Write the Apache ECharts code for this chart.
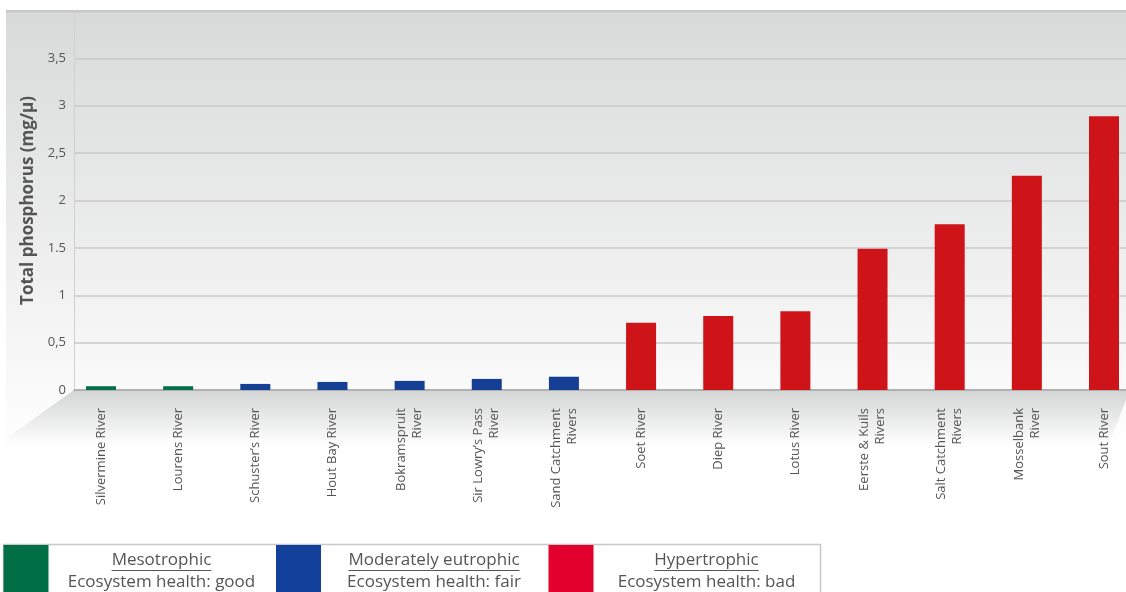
<!DOCTYPE html>
<html>
<head>
<meta charset="utf-8">
<script src="https://cdn.jsdelivr.net/npm/echarts@6/dist/echarts.min.js"></script>
<style>
  html, body { margin: 0; padding: 0; background: #fff; }
  #main { width: 1126px; height: 592px; }
</style>
</head>
<body>
<div id="main"></div>
<script>
// data
const rivers = [
  'Silvermine River', 'Lourens River', 'Schuster’s River', 'Hout Bay River',
  'Bokramspruit\nRiver', 'Sir Lowry’s Pass\nRiver', 'Sand Catchment\nRivers',
  'Soet River', 'Diep River', 'Lotus River', 'Eerste & Kuils\nRivers',
  'Salt Catchment\nRivers', 'Mosselbank\nRiver', 'Sout River'
]
const phosphorus = [0.04, 0.04, 0.064, 0.085, 0.096, 0.117, 0.14, 0.71, 0.78, 0.83, 1.49, 1.75, 2.26, 2.89]
// 0 = mesotrophic, 1 = moderately eutrophic, 2 = hypertrophic
const trophicClass = [0, 0, 1, 1, 1, 1, 1, 2, 2, 2, 2, 2, 2, 2]
const barColors = ['#02704a', '#143f94', '#cf1419']
const yTickLabels = ['0', '0,5', '1', '1.5', '2', '2,5', '3', '3,5', '']

const legendTitles = ['Mesotrophic', 'Moderately eutrophic', 'Hypertrophic']
const legendNotes = ['Ecosystem health: good', 'Ecosystem health: fair', 'Ecosystem health: bad']
const legendColors = ['#006f45', '#12409a', '#e2002c']

const FONT = '"Open Sans", "Noto Sans", sans-serif'
const textColor = '#555'

const chart = echarts.init(document.getElementById('main'), null, { renderer: 'canvas' })

// measure legend titles for the underline
const ctx = document.createElement('canvas').getContext('2d')
ctx.font = '17px "Open Sans"'

const legendEls = [{
  type: 'rect',
  shape: { x: 3.5, y: 544.5, width: 817, height: 60 },
  style: { fill: '#fff', stroke: '#c8c8c8', lineWidth: 1.5 },
  z: 10
}]
legendTitles.forEach((t, i) => {
  const x0 = 3 + i * 272.5
  const cx = x0 + 45 + 113.5
  const w = ctx.measureText(t).width
  legendEls.push(
    { type: 'rect', shape: { x: x0 + 0.5, y: 545, width: 45, height: 50 }, style: { fill: legendColors[i] }, z: 11 },
    { type: 'text', x: cx, y: 560, style: { text: t, font: '17px ' + FONT, fill: textColor, align: 'center', verticalAlign: 'middle' }, z: 11 },
    { type: 'line', shape: { x1: cx - w / 2, y1: 570.5, x2: cx + w / 2, y2: 570.5 }, style: { stroke: textColor, lineWidth: 1 }, z: 11 },
    { type: 'text', x: cx, y: 582, style: { text: legendNotes[i], font: '17px ' + FONT, fill: textColor, align: 'center', verticalAlign: 'middle' }, z: 11 }
  )
})

chart.setOption({
  animation: false,
  graphic: [
    // back wall
    {
      type: 'rect',
      shape: { x: 6, y: 11, width: 1120, height: 440 },
      style: {
        fill: new echarts.graphic.LinearGradient(0, 0, 0, 1, [
          { offset: 0, color: '#d8d9d9' },
          { offset: 0.86, color: '#fafafa' },
          { offset: 1, color: '#ffffff' }
        ])
      },
      z: -10
    },
    { type: 'rect', shape: { x: 6, y: 10, width: 1120, height: 2.5 }, style: { fill: '#c6c7c7' }, z: -9 },
    // floor
    {
      type: 'polygon',
      shape: { points: [[74, 390], [1126, 390], [1126, 400], [1108, 446], [4, 446], [4, 440]] },
      style: {
        fill: new echarts.graphic.LinearGradient(0, 0, 0, 1, [
          { offset: 0, color: '#d3d4d4' },
          { offset: 1, color: '#ffffff' }
        ])
      },
      z: -9
    },
    ...legendEls
  ],
  grid: [
    { left: 74, right: 0, top: 11, bottom: 202 },
    // category ticks sit on the bar centres, first and last at the grid edges
    { left: 101, right: 22, top: 11, bottom: 202 }
  ],
  xAxis: [
    {
      gridIndex: 0,
      type: 'value',
      min: 0,
      max: 1,
      axisLine: { show: true, lineStyle: { color: '#a6a6a6', width: 1.5 } },
      axisTick: { show: false },
      axisLabel: { show: false },
      splitLine: { show: false }
    },
    {
      gridIndex: 1,
      type: 'category',
      data: rivers,
      boundaryGap: false,
      axisLine: { show: false },
      axisTick: { show: false },
      splitLine: { show: false },
      axisLabel: {
        interval: 0,
        rotate: 90,
        margin: 18,
        fontSize: 13,
        lineHeight: 16,
        color: textColor,
        fontFamily: FONT
      }
    }
  ],
  yAxis: [
    {
      gridIndex: 0,
      type: 'value',
      min: 0,
      max: 4,
      interval: 0.5,
      name: 'Total phosphorus (mg/µ)',
      nameLocation: 'middle',
      nameGap: 28,
      nameTextStyle: { fontSize: 17, fontWeight: 'bold', color: textColor, fontFamily: FONT },
      axisLine: { show: true, lineStyle: { color: '#d0d0d0', width: 1 } },
      axisTick: { show: false },
      axisLabel: {
        margin: 8,
        fontSize: 13,
        color: textColor,
        fontFamily: FONT,
        padding: [0, 0, 6, 0],
        formatter: (v) => yTickLabels[Math.round(v / 0.5)]
      },
      splitLine: { show: true, showMaxLine: false, lineStyle: { color: '#c9c9c9', width: 1.5 } }
    },
    { gridIndex: 1, type: 'value', min: 0, max: 4, show: false }
  ],
  series: [
    {
      type: 'bar',
      xAxisIndex: 1,
      yAxisIndex: 1,
      barWidth: 30,
      clip: false,
      data: phosphorus.map((v, i) => ({ value: v, itemStyle: { color: barColors[trophicClass[i]] } }))
    }
  ]
})
</script>
</body>
</html>
